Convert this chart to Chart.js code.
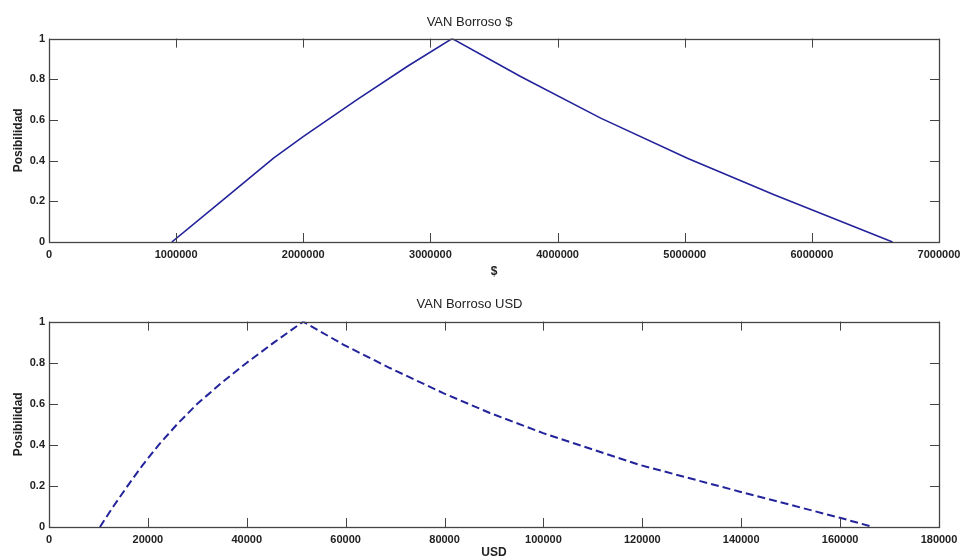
<!DOCTYPE html>
<html>
<head>
<meta charset="utf-8">
<script src="https://cdn.jsdelivr.net/npm/chart.js@4.4.0/dist/chart.umd.min.js"></script>
<style>
  body { margin: 0; background: #fff; }
  .panel { position: absolute; left: 0; width: 960px; height: 280px; }
</style>
</head>
<body>
<div class="panel" style="top:0"><canvas id="pesos" width="960" height="280"></canvas></div>
<div class="panel" style="top:280px"><canvas id="usd" width="960" height="280"></canvas></div>
<script>
// Fuzzy NPV in pesos
const vanPesosX = [966000, 1400000, 1766000, 2002000, 2423000, 2820000, 3171000, 3709000, 4339000, 5021000, 5703000, 6635000];
const vanPesosY = [0, 0.223, 0.412, 0.519, 0.700, 0.864, 1, 0.814, 0.609, 0.412, 0.232, 0];

// Fuzzy NPV in USD
const vanUsdX = [10300, 13000, 15900, 18900, 22200, 25900, 30000, 34800, 40000, 45600, 51420, 59510, 68950, 79730, 89170, 99950, 119500, 139730, 159950, 166630];
const vanUsdY = [0, 0.1, 0.2, 0.3, 0.4, 0.5, 0.6, 0.7, 0.8, 0.9, 1, 0.888, 0.774, 0.652, 0.555, 0.457, 0.302, 0.172, 0.045, 0];

// Tick values
const pesosTicks = [0, 1000000, 2000000, 3000000, 4000000, 5000000, 6000000, 7000000];
const usdTicks = [0, 20000, 40000, 60000, 80000, 100000, 120000, 140000, 160000, 180000];
const posTicks = [0, 0.2, 0.4, 0.6, 0.8, 1];

const FONT = "'Liberation Sans', Arial, sans-serif";
const LINE = '#23239b';
const INK = '#222';

// MATLAB-like box with inward ticks on all four sides
const boxTicks = {
  id: 'boxTicks',
  afterDraw(chart) {
    const { ctx, chartArea: a, scales: { x, y } } = chart;
    const len = 9;
    ctx.save();
    ctx.strokeStyle = '#444';
    ctx.lineWidth = 1;
    ctx.beginPath();
    x.ticks.forEach(t => {
      const px = Math.round(x.getPixelForValue(t.value)) + 0.5;
      ctx.moveTo(px, a.bottom); ctx.lineTo(px, a.bottom - len);
      ctx.moveTo(px, a.top); ctx.lineTo(px, a.top + len);
    });
    y.ticks.forEach(t => {
      const py = Math.round(y.getPixelForValue(t.value)) + 0.5;
      ctx.moveTo(a.left, py); ctx.lineTo(a.left + len, py);
      ctx.moveTo(a.right, py); ctx.lineTo(a.right - len, py);
    });
    ctx.stroke();
    ctx.lineWidth = 1.3;
    ctx.strokeRect(Math.round(a.left) + 0.5, Math.round(a.top) + 0.5,
      Math.round(a.width), Math.round(a.height));
    ctx.restore();
  }
};

function makeChart(id, cfg) {
  const points = cfg.xs.map((v, i) => ({ x: v, y: cfg.ys[i] }));
  return new Chart(document.getElementById(id), {
    type: 'line',
    data: {
      datasets: [{
        data: points,
        borderColor: LINE,
        borderWidth: cfg.width,
        borderDash: cfg.dash,
        pointRadius: 0,
        tension: 0,
        fill: false
      }]
    },
    options: {
      responsive: false,
      animation: false,
      devicePixelRatio: 1,
      layout: { padding: { left: 0, right: 21, top: 0, bottom: 0 } },
      plugins: {
        legend: { display: false },
        tooltip: { enabled: false },
        title: {
          display: true,
          text: cfg.title,
          color: INK,
          font: { family: FONT, size: 13, weight: 'normal' },
          padding: cfg.titlePad
        }
      },
      scales: {
        x: {
          type: 'linear',
          min: cfg.xTicks[0],
          max: cfg.xTicks[cfg.xTicks.length - 1],
          afterBuildTicks: s => { s.ticks = cfg.xTicks.map(v => ({ value: v })); },
          afterFit: s => { s.height = cfg.xHeight; s.paddingLeft = 0; s.paddingRight = 0; },
          grid: { display: false, drawTicks: false },
          border: { display: false },
          ticks: {
            color: INK, padding: 6, maxRotation: 0, autoSkip: false,
            font: { family: FONT, size: 11, weight: 'bold' },
            callback: v => String(v)
          },
          title: {
            display: true, text: cfg.xLabel, color: INK,
            font: { family: FONT, size: 12, weight: 'bold' },
            padding: { top: 0, bottom: cfg.xTitlePad }
          }
        },
        y: {
          min: 0, max: 1,
          afterBuildTicks: s => { s.ticks = posTicks.map(v => ({ value: v })); },
          afterFit: s => { s.width = 49; },
          grid: { display: false, drawTicks: false },
          border: { display: false },
          ticks: {
            color: INK, padding: 4,
            font: { family: FONT, size: 11, weight: 'bold' },
            callback: v => String(v)
          },
          title: {
            display: true, text: 'Posibilidad', color: INK,
            font: { family: FONT, size: 12, weight: 'bold' },
            padding: { top: 11, bottom: 0 }
          }
        }
      }
    },
    plugins: [boxTicks]
  });
}

makeChart('pesos', {
  xs: vanPesosX, ys: vanPesosY, xTicks: pesosTicks,
  title: 'VAN Borroso $', xLabel: '$',
  width: 1.6, dash: [],
  titlePad: { top: 15, bottom: 8 }, xHeight: 38, xTitlePad: 1
});

makeChart('usd', {
  xs: vanUsdX, ys: vanUsdY, xTicks: usdTicks,
  title: 'VAN Borroso USD', xLabel: 'USD',
  width: 2, dash: [8, 4],
  titlePad: { top: 17, bottom: 9 }, xHeight: 33, xTitlePad: 0
});
</script>
</body>
</html>
